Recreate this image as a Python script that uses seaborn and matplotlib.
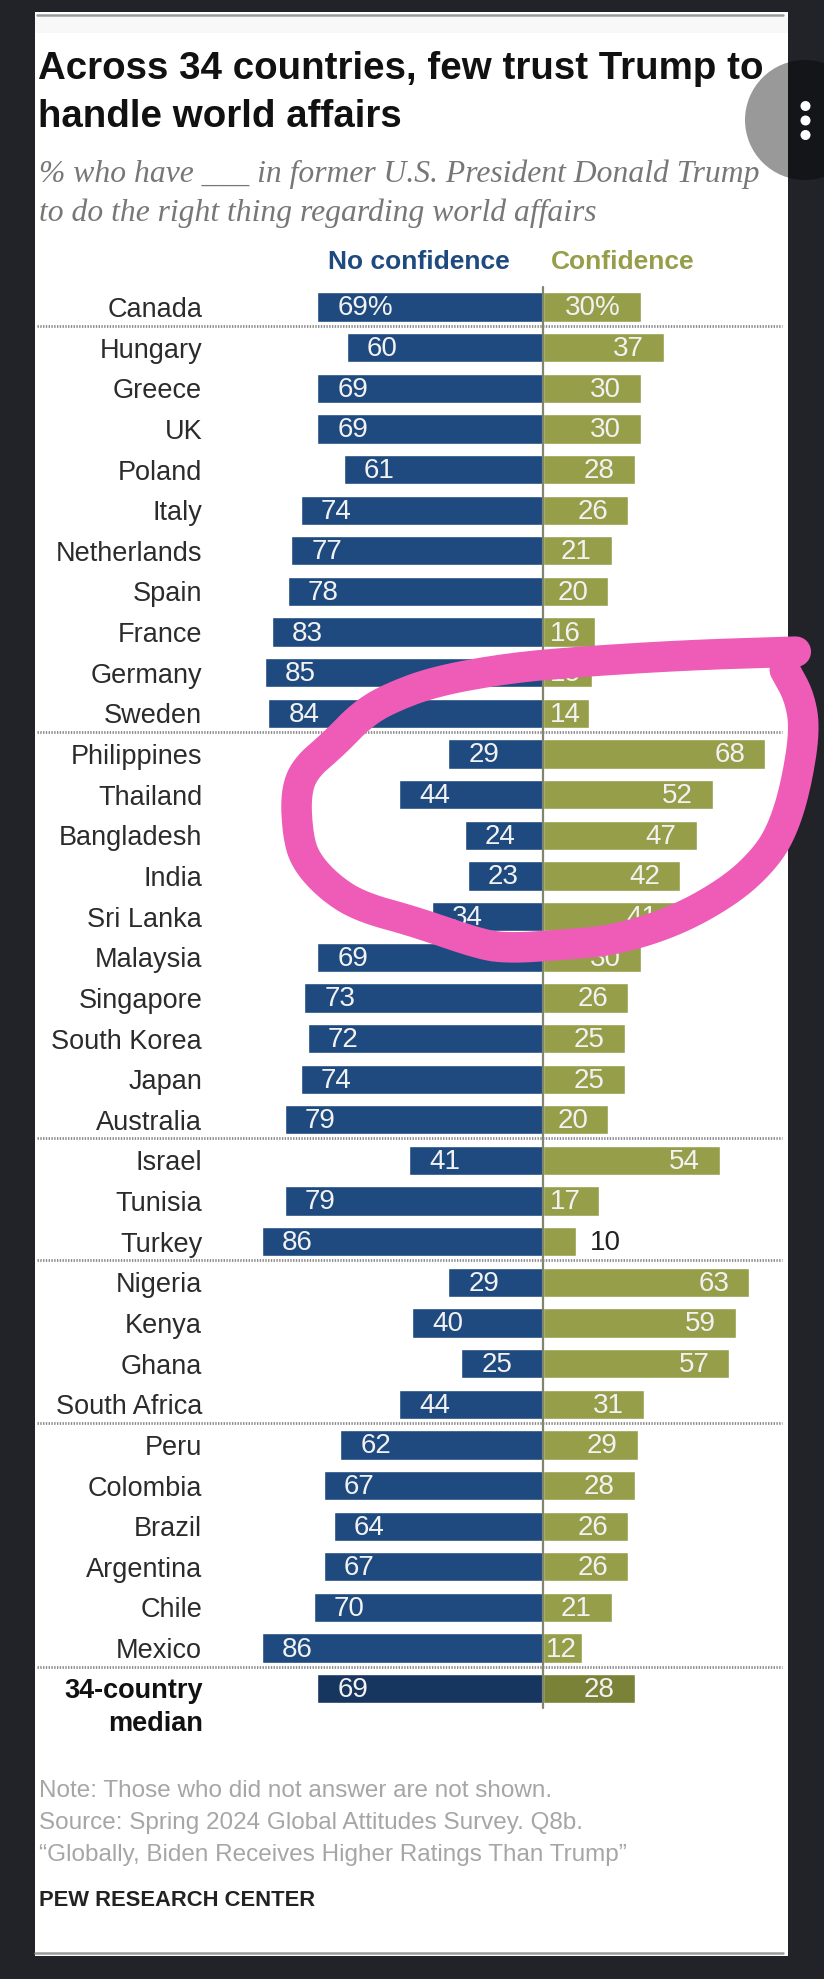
import numpy as np
import pandas as pd
import matplotlib
matplotlib.use("Agg")
import matplotlib.pyplot as plt
from matplotlib.patches import Rectangle, Circle
import seaborn as sns

countries = ["Canada","Hungary","Greece","UK","Poland","Italy","Netherlands","Spain","France","Germany","Sweden",
             "Philippines","Thailand","Bangladesh","India","Sri Lanka","Malaysia","Singapore","South Korea","Japan","Australia",
             "Israel","Tunisia","Turkey","Nigeria","Kenya","Ghana","South Africa",
             "Peru","Colombia","Brazil","Argentina","Chile","Mexico","34-country median"]
no_conf = [69,60,69,69,61,74,77,78,83,85,84,29,44,24,23,34,69,73,72,74,79,41,79,86,29,40,25,44,62,67,64,67,70,86,69]
conf = [30,37,30,30,28,26,21,20,16,15,14,68,52,47,42,41,30,26,25,25,20,54,17,10,63,59,57,31,29,28,26,26,21,12,28]
group_ends = [0,10,20,23,27,33]

title = "Across 34 countries, few trust Trump to\nhandle world affairs"
subtitle = ["% who have ___ in former U.S. President Donald Trump", "to do the right thing regarding world affairs"]
notes = ["Note: Those who did not answer are not shown.",
         "Source: Spring 2024 Global Attitudes Survey. Q8b.",
         "\u201cGlobally, Biden Receives Higher Ratings Than Trump\u201d"]

BLUE, OLIVE = "#1f4a7f", "#969e4a"
DBLUE, DOLIVE = "#17365f", "#7a8237"
W, H = 824, 1979
PXU, X0 = 3.27, 543
ROW0, PITCH = 307, 40.64
LABEL_FS, VALUE_FS = 19.5, 20

sns.set_theme(style="white")
plt.rcParams["font.family"] = ["Liberation Sans", "DejaVu Sans"]
fig = plt.figure(figsize=(W/100, H/100), dpi=100, facecolor="#212328")

# page layer in pixel coordinates
bg = fig.add_axes([0, 0, 1, 1], zorder=0)
bg.set_xlim(0, W); bg.set_ylim(H, 0); bg.axis("off")
bg.add_patch(Rectangle((35, 12), 753, 1944, fc="white", ec="none"))
bg.add_patch(Rectangle((35, 17), 753, 16, fc="#f8f8f8", ec="none"))
bg.plot([37, 783], [15, 15], color="#9a9a9a", lw=1.8)
bg.plot([35, 783], [1953, 1953], color="#9a9a9a", lw=1.8)

tkw = dict(va="center", ha="left")
bg.text(38, 69, title.split("\n")[0], fontsize=27.7, fontweight="bold", color="#111111", **tkw)
bg.text(38, 117, title.split("\n")[1], fontsize=27.7, fontweight="bold", color="#111111", **tkw)
bg.text(39, 174, subtitle[0], fontsize=22.8, style="italic", family="Liberation Serif", color="#777777", **tkw)
bg.text(39, 213, subtitle[1], fontsize=22.8, style="italic", family="Liberation Serif", color="#777777", **tkw)
bg.text(419, 262, "No confidence", fontsize=19, fontweight="bold", color=BLUE, va="center", ha="center")
bg.text(623, 262, "Confidence", fontsize=19, fontweight="bold", color=OLIVE, va="center", ha="center")
for y, s in zip([1791, 1823, 1855], notes):
    bg.text(39, y, s, fontsize=17.5, color="#a6a6a6", **tkw)
bg.text(39, 1901, "PEW RESEARCH CENTER", fontsize=15.8, fontweight="bold", color="#222222", **tkw)

# chart layer: bars on a shared zero line
L, R, T, B = 205, 788, 280, 1720
ax = fig.add_axes([L/W, 1-B/H, (R-L)/W, (B-T)/H], zorder=1)
ax.patch.set_alpha(0)
df = pd.DataFrame({
    "country": countries*2,
    "value": [-v for v in no_conf] + conf,
    "series": ["No confidence"]*len(countries) + ["Confidence"]*len(countries),
})
sns.barplot(data=df, y="country", x="value", hue="series", dodge=False, width=0.72, saturation=1,
            palette={"No confidence": BLUE, "Confidence": OLIVE}, legend=False, ax=ax, zorder=2)
ax.set_xlim((L-X0)/PXU, (R-X0)/PXU)
ax.set_ylim((B-ROW0)/PITCH, (T-ROW0)/PITCH)
ax.set_xlabel(""); ax.set_ylabel(""); ax.set_xticks([])
sns.despine(ax=ax, left=True, bottom=True, top=True, right=True)
ax.grid(False)
ax.tick_params(axis="y", length=0, pad=2)
ax.set_yticks(range(len(countries)))
ax.set_yticklabels(countries[:-1] + [""], fontsize=LABEL_FS, color="#2b2b2b")

n = len(countries)
ax.containers[0][n-1].set_facecolor(DBLUE)
ax.containers[1][n-1].set_facecolor(DOLIVE)

ax.annotate("34-country\nmedian", xy=(0, n-1), xycoords=("axes fraction", "data"), xytext=(-1.5, 8),
            textcoords="offset points", ha="right", va="top", fontsize=LABEL_FS, fontweight="bold",
            color="#111111", linespacing=1.35, annotation_clip=False)

pt = 72/100
for i, (a, b) in enumerate(zip(no_conf, conf)):
    ax.annotate(f"{a}%" if i == 0 else str(a), xy=(-a, i), xytext=(20*pt, -1), textcoords="offset points",
                ha="left", va="center", color="#f2f2f2", fontsize=VALUE_FS, zorder=4)
    if b <= 10:
        ax.annotate(str(b), xy=(b, i), xytext=(14*pt, -1), textcoords="offset points",
                    ha="left", va="center", color="#222222", fontsize=VALUE_FS, zorder=4)
    else:
        off = 20 if b >= 20 else max(5, (b*PXU-38))
        ax.annotate(f"{b}%" if i == 0 else str(b), xy=(b, i), xytext=(-off*pt, -1), textcoords="offset points",
                    ha="right", va="center", color="#f2f2f2", fontsize=VALUE_FS, zorder=4)

# dotted separators and centre line
xl = ((37-X0)/PXU, (782-X0)/PXU)
for e in group_ends:
    ax.plot(xl, [e+0.46, e+0.46], color="#8a8a8a", lw=2.0, ls=(0, (0.5, 0.5)), clip_on=False, zorder=3)
ax.plot([0, 0], [(287-ROW0)/PITCH, (1708-ROW0)/PITCH], color="#7f8570", lw=1.6, zorder=5)

# hand-drawn marker and floating button on top
top = fig.add_axes([0, 0, 1, 1], zorder=2)
top.set_xlim(0, W); top.set_ylim(H, 0); top.axis("off"); top.patch.set_alpha(0)
scrib = np.array([(1490,95),(1200,105),(900,125),(700,145),(500,185),(370,240),(300,290),(230,370),(150,445),
                  (125,520),(130,640),(150,720),(215,800),(300,860),(450,905),(620,970),(700,985),(850,975),
                  (1000,960),(1170,900),(1320,805),(1410,710),(1455,625),(1490,500),(1515,330),(1500,230),(1460,150)], float)
for _ in range(3):  # round off the pen stroke's corners
    q = 0.75*scrib[:-1] + 0.25*scrib[1:]
    r = 0.25*scrib[:-1] + 0.75*scrib[1:]
    mid = np.empty((2*len(q), 2)); mid[0::2] = q; mid[1::2] = r
    scrib = np.vstack([scrib[:1], mid, scrib[-1:]])
top.plot(250+scrib[:,0]/2.73, 620+scrib[:,1]/3, color="#ee5cb8", lw=22, solid_capstyle="round", solid_joinstyle="round")
top.add_patch(Circle((805, 120), 60, fc="black", alpha=0.4, ec="none"))
for y in [106, 120.5, 135]:
    top.add_patch(Circle((805.5, y), 5, fc="white", ec="none"))

fig.savefig("out.png", dpi=100, facecolor=fig.get_facecolor())
